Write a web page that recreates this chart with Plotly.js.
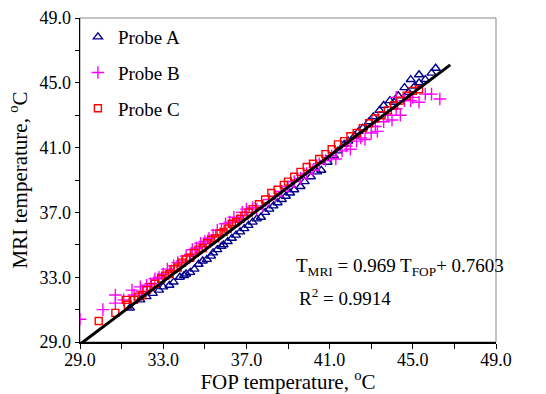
<!DOCTYPE html>
<html>
<head>
<meta charset="utf-8">
<script src="https://cdn.plot.ly/plotly-3.0.1.min.js"></script>
<style>html,body{margin:0;padding:0;background:#fff;}#chart{width:546px;height:394px;}</style>
</head>
<body>
<div id="chart"></div>
<script>
// Probe A (navy triangles)
const probeA_x = [31.4,31.9,32.2,32.5,32.8,33.0,33.3,33.5,33.8,34.0,34.1,34.3,34.5,34.7,34.9,35.1,35.3,35.4,35.6,35.8,35.9,36.1,36.3,36.5,36.7,36.9,37.1,37.3,37.5,37.7,37.9,38.1,38.3,38.5,38.7,38.9,39.1,39.3,39.6,39.8,40.1,40.4,40.6,40.9,41.2,41.4,41.7,41.9,42.2,42.4,42.6,42.9,43.1,43.4,43.6,43.9,44.1,44.3,44.6,44.8,44.9,45.1,45.3,45.3,45.6,45.9,46.1];
const probeA_y = [31.1,31.6,31.8,32.0,32.2,32.4,32.5,32.7,33.0,33.1,33.2,33.3,33.5,33.8,34.0,34.1,34.3,34.5,34.7,34.9,35.0,35.2,35.4,35.6,35.8,36.0,36.2,36.4,36.6,36.7,37.0,37.2,37.4,37.6,37.8,38.0,38.2,38.4,38.6,38.9,39.2,39.5,39.6,40.1,40.5,40.8,41.2,41.4,41.7,42.0,42.2,42.6,42.9,43.3,43.6,43.9,43.8,44.2,44.7,44.4,45.2,44.8,45.5,45.0,45.2,45.6,45.9];

// Probe B (magenta crosses)
const probeB_x = [29.0,30.1,30.7,30.7,31.1,31.5,31.6,31.9,32.0,32.2,32.4,32.6,32.8,33.0,33.2,33.4,33.5,33.7,33.9,34.1,34.3,34.4,34.6,34.8,35.0,35.2,35.4,35.6,35.8,36.0,36.2,36.4,36.6,36.8,37.0,37.3,37.5,37.8,38.1,38.4,38.7,39.0,39.3,39.6,39.9,40.2,40.5,40.8,41.1,41.3,41.6,41.8,42.0,42.3,42.5,42.7,43.0,43.2,43.3,43.6,43.8,44.0,44.2,44.2,44.4,44.6,44.9,45.0,45.3,45.6,45.9,46.3];
const probeB_y = [30.4,31.0,31.4,31.9,31.6,32.2,31.9,32.4,32.1,32.5,32.6,32.9,33.0,33.2,33.5,33.4,33.7,33.9,34.0,34.3,34.4,34.7,34.8,35.1,35.2,35.4,35.6,35.9,35.9,36.3,36.4,36.7,36.5,37.0,37.2,37.3,37.2,37.4,37.8,38.0,38.3,38.6,38.9,39.1,39.4,39.6,40.0,40.2,40.5,40.3,40.8,41.1,40.9,41.4,41.6,41.5,41.9,42.3,42.0,42.6,43.0,42.7,43.4,44.1,43.0,43.9,43.9,44.1,43.8,44.3,44.3,44.0];

// Probe C (red squares)
const probeC_x = [29.9,30.7,31.2,31.3,31.6,31.8,32.0,32.2,32.4,32.6,32.9,33.1,33.3,33.5,33.7,33.9,34.1,34.3,34.5,34.7,34.9,35.1,35.3,35.5,35.7,35.9,36.1,36.3,36.5,36.7,36.9,37.1,37.3,37.6,37.9,38.2,38.5,38.8,39.0,39.3,39.6,39.9,40.2,40.5,40.8,41.1,41.4,41.7,42.0,42.3,42.6,42.9,43.2,43.5,43.8,44.1,44.4,44.7,45.0,45.3];
const probeC_y = [30.3,30.8,31.6,31.3,31.6,31.8,31.9,32.2,32.4,32.6,32.9,33.1,33.2,33.5,33.6,33.9,34.1,34.2,34.5,34.7,34.8,35.1,35.3,35.4,35.7,35.8,36.0,36.3,36.4,36.6,36.8,37.0,37.2,37.5,37.8,38.2,38.4,38.7,38.9,39.2,39.5,39.8,40.0,40.3,40.6,40.9,41.2,41.4,41.7,41.9,42.2,42.5,42.8,43.0,43.3,43.6,43.9,44.2,44.5,44.6];

// Regression line
const fitSlope = 0.969;
const fitIntercept = 0.7603;
const fitRange = [29.0, 46.8];

// Axis ticks
const axisRange = [29, 49];
const majorStep = 4;
const minorStep = 2;

const fitY = fitRange.map(x => fitSlope * x + fitIntercept);
const serif = 'Liberation Serif, Times New Roman, serif';

const traces = [
  {x: probeA_x, y: probeA_y, mode: 'markers', type: 'scatter', name: 'Probe A', legendgroup: 'a',
   marker: {symbol: 'triangle-up-open', size: 8, color: '#00008B', line: {width: 1.4, color: '#00008B'}}},
  {x: probeB_x, y: probeB_y, mode: 'markers', type: 'scatter', name: 'Probe B', legendgroup: 'b',
   marker: {symbol: 'cross-thin-open', size: 9, color: '#FF00FF', line: {width: 1.4, color: '#FF00FF'}}},
  {x: probeC_x, y: probeC_y, mode: 'markers', type: 'scatter', name: 'Probe C', legendgroup: 'c',
   marker: {symbol: 'square-open', size: 7, color: '#FF0000', line: {width: 1.4, color: '#FF0000'}}},
  {x: fitRange, y: fitY, mode: 'lines', type: 'scatter', showlegend: false, hoverinfo: 'skip',
   line: {color: '#000000', width: 3}}
];

function axisCommon(len) {
  return {
    range: axisRange, showgrid: false, zeroline: false, showline: true, linecolor: '#000', linewidth: 1.5,
    tickmode: 'linear', tick0: axisRange[0], dtick: majorStep, tickformat: '.1f',
    ticks: 'outside', ticklen: len, tickwidth: 1, tickcolor: '#000',
    minor: {tickmode: 'linear', tick0: axisRange[0], dtick: minorStep, ticks: 'outside', ticklen: len, tickwidth: 1, tickcolor: '#000', showgrid: false},
    tickfont: {family: serif, size: 18, color: '#000'}
  };
}

const xaxis = Object.assign(axisCommon(5), {
  ticklabelstandoff: -4,
  title: {text: 'FOP temperature, <sup>o</sup>C', font: {family: serif, size: 21, color: '#000'}, standoff: 12}
});
const yaxis = Object.assign(axisCommon(4), {
  title: {text: 'MRI temperature, <sup>o</sup>C', font: {family: serif, size: 21, color: '#000'}, standoff: 6}
});

const layout = {
  width: 546, height: 394,
  margin: {l: 80, r: 50, t: 18, b: 52},
  paper_bgcolor: '#ffffff', plot_bgcolor: '#ffffff',
  font: {family: serif, size: 18, color: '#000'},
  showlegend: true,
  legend: {x: -0.005, y: 1.0, xanchor: 'left', yanchor: 'top', bgcolor: 'rgba(0,0,0,0)',
           font: {family: serif, size: 19, color: '#000'}, traceorder: 'grouped', tracegroupgap: 8},
  xaxis: xaxis,
  yaxis: yaxis,
  shapes: [
    {type: 'rect', xref: 'paper', yref: 'paper', x0: 0, x1: 1, y0: 0, y1: 1,
     line: {color: '#888888', width: 1}, layer: 'below'}
  ],
  annotations: [
    {xref: 'paper', yref: 'paper', x: 0.515, y: 0.233, xanchor: 'left', yanchor: 'middle', showarrow: false,
     text: 'T<sub>MRI</sub> = 0.969 T<sub>FOP</sub>+ 0.7603', font: {family: serif, size: 19, color: '#000'}},
    {xref: 'paper', yref: 'paper', x: 0.522, y: 0.139, xanchor: 'left', yanchor: 'middle', showarrow: false,
     text: 'R<sup>2</sup> = 0.9914', font: {family: serif, size: 19, color: '#000'}}
  ]
};

Plotly.newPlot('chart', traces, layout, {displayModeBar: false, staticPlot: true});
</script>
</body>
</html>
